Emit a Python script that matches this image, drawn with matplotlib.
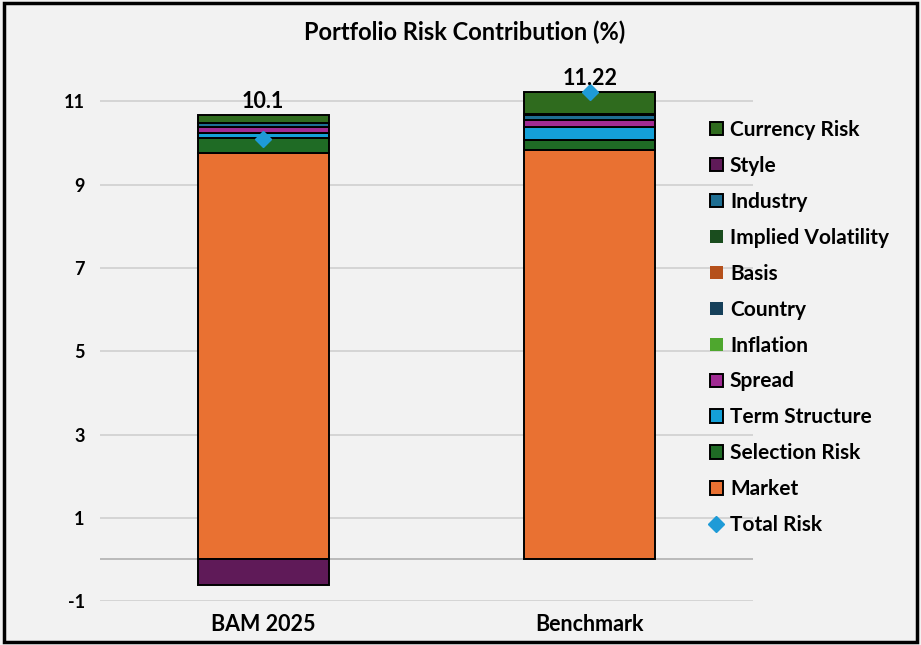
import matplotlib
matplotlib.use('Agg')
import matplotlib.pyplot as plt
from matplotlib.patches import Rectangle
from matplotlib.lines import Line2D
import numpy as np

plt.rcParams['font.family'] = ['Lato', 'DejaVu Sans']
plt.rcParams['font.weight'] = 'bold'
plt.rcParams['axes.unicode_minus'] = False

categories = ['BAM 2025', 'Benchmark']

# stack order, bottom to top
market = [9.77, 9.84]
selection = [0.36, 0.24]
term_structure = [0.12, 0.30]
spread = [0.14, 0.17]
inflation = [0.0, 0.0]
country = [0.0, 0.0]
basis = [0.0, 0.0]
implied_vol = [0.0, 0.0]
industry = [0.09, 0.12]
style = [-0.62, 0.04]
currency = [0.20, 0.51]
total_risk = [10.1, 11.22]
total_labels = ['10.1', '11.22']

series = [
    ('Market', market, '#E97132'),
    ('Selection Risk', selection, '#1F6B25'),
    ('Term Structure', term_structure, '#14A0D8'),
    ('Spread', spread, '#A02B93'),
    ('Inflation', inflation, '#4EA72E'),
    ('Country', country, '#16405A'),
    ('Basis', basis, '#B5501B'),
    ('Implied Volatility', implied_vol, '#1A4D1E'),
    ('Industry', industry, '#1E6E92'),
    ('Style', style, '#5F1A58'),
    ('Currency Risk', currency, '#2F6B1E'),
]

bg = '#F2F2F2'
fig = plt.figure(figsize=(9.21, 6.45), dpi=100, facecolor=bg)
ax = fig.add_axes([0.1086, 0.0682, 0.709, 0.839], facecolor=bg)

x = np.arange(len(categories))
pos_bottom = np.zeros(len(categories))
neg_bottom = np.zeros(len(categories))
handles = []
for name, vals, color in series:
    vals = np.array(vals, dtype=float)
    has_data = np.any(vals != 0)
    bottom = np.where(vals >= 0, pos_bottom, neg_bottom)
    ax.bar(x, vals, width=0.4, bottom=bottom, color=color,
           edgecolor='black' if has_data else 'none', linewidth=1.4, zorder=3)
    pos_bottom += np.where(vals >= 0, vals, 0)
    neg_bottom += np.where(vals < 0, vals, 0)
    handles.append((name, color, has_data))

ax.plot(x, total_risk, linestyle='none', marker='D', markersize=8,
        color='#1E9BD7', zorder=5)
for xi, top, lab in zip(x, pos_bottom, total_labels):
    ax.text(xi, top + 0.07, lab, ha='center', va='bottom', fontsize=15.5,
            fontweight='bold', zorder=6)

ax.set_xlim(-0.5, 1.5)
ax.set_ylim(-1, 12)
ax.set_yticks([-1, 1, 3, 5, 7, 9, 11])
ax.set_xticks(x)
ax.set_xticklabels(categories, fontsize=15.5, fontweight='bold')
ax.tick_params(axis='both', length=0)
ax.tick_params(axis='y', pad=11, labelsize=13)
ax.tick_params(axis='x', pad=9)
for lab in ax.get_yticklabels():
    lab.set_fontweight('bold')
ax.grid(axis='y', color='#D0D0D0', linewidth=1.2, zorder=0)
ax.axhline(0, color='#B0B0B0', linewidth=1.2, zorder=1)
for s in ax.spines.values():
    s.set_visible(False)

fig.text(0.505, 0.950, 'Portfolio Risk Contribution (%)', ha='center',
         va='center', fontsize=17, fontweight='bold')

leg_handles = []
leg_labels = []
for name, color, has_data in reversed(handles):
    leg_handles.append(Rectangle((0, 0), 1, 1, facecolor=color,
                                 edgecolor='black' if has_data else 'none',
                                 linewidth=1.4))
    leg_labels.append(name)
leg_handles.append(Line2D([], [], linestyle='none', marker='D', markersize=8,
                          color='#1E9BD7'))
leg_labels.append('Total Risk')
fig.legend(leg_handles, leg_labels, loc='upper left',
           bbox_to_anchor=(0.762, 0.827), frameon=False, fontsize=15,
           handlelength=0.6, handleheight=0.6, handletextpad=0.35,
           labelspacing=0.765, borderaxespad=0)

fig.add_artist(Rectangle((0.004, 0.004), 0.992, 0.992, transform=fig.transFigure,
                         fill=False, edgecolor='black', linewidth=2.5))

fig.savefig('out.png', dpi=100, facecolor=bg)
